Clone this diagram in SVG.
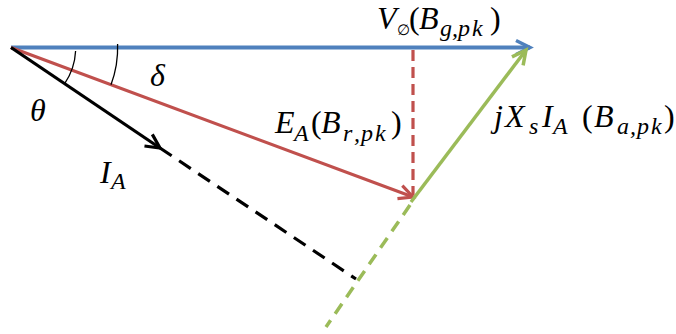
<svg xmlns="http://www.w3.org/2000/svg" width="676" height="334" viewBox="0 0 676 334">
<style>
  .t { font-family: "Liberation Serif", "DejaVu Serif", serif; font-size: 32px; font-style: italic; fill: #000; }
  .s { font-size: 24px; }
  .u { font-style: normal; }
  .e { font-family: "DejaVu Serif", serif; font-size: 15px; font-style: normal; }
  .blue { stroke: #4F81BD; fill: none; stroke-width: 4; }
  .red { stroke: #C0504D; fill: none; stroke-width: 3.2; }
  .grn { stroke: #9BBB59; fill: none; stroke-width: 3.5; }
  .blk { stroke: #000; fill: none; stroke-width: 3.2; }
  .arc { stroke: #000; fill: none; stroke-width: 1.3; }
</style>
<defs>
  <marker id="mBlue" markerUnits="userSpaceOnUse" viewBox="-16 -9 18 18" refX="0" refY="0" markerWidth="18" markerHeight="18" orient="auto" overflow="visible">
    <path d="M-14,-7 L0,0 L-14,7" fill="none" stroke="#4F81BD" stroke-width="3.5"/>
  </marker>
  <marker id="mRed" markerUnits="userSpaceOnUse" viewBox="-16 -9 18 18" refX="0" refY="0" markerWidth="18" markerHeight="18" orient="auto" overflow="visible">
    <path d="M-14,-7 L0,0 L-14,7" fill="none" stroke="#C0504D" stroke-width="3.2"/>
  </marker>
  <marker id="mGrn" markerUnits="userSpaceOnUse" viewBox="-16 -9 18 18" refX="0" refY="0" markerWidth="18" markerHeight="18" orient="auto" overflow="visible">
    <path d="M-14,-7 L0,0 L-14,7" fill="none" stroke="#9BBB59" stroke-width="3.5"/>
  </marker>
  <marker id="mBlk" markerUnits="userSpaceOnUse" viewBox="-16 -9 18 18" refX="0" refY="0" markerWidth="18" markerHeight="18" orient="auto" overflow="visible">
    <path d="M-14,-7 L0,0 L-14,7" fill="none" stroke="#000" stroke-width="3.2"/>
  </marker>
</defs>
<g id="connectors">
  <path class="red" d="M413,50 L413,195" stroke-dasharray="11 6"/>
  <path class="blk" d="M160,148 L356,279" stroke-dasharray="14 9"/>
  <path class="grn" d="M410,205 L326,327" stroke-dasharray="12 8"/>
  <path class="blue" d="M11,47.5 L530,47.5" marker-end="url(#mBlue)"/>
  <path class="red" d="M11,47.5 L413,197" marker-end="url(#mRed)"/>
  <path class="blk" d="M11,47.5 L160,148" marker-end="url(#mBlk)"/>
  <path class="grn" d="M411,202 L526,50" marker-end="url(#mGrn)"/>
  <path class="arc" d="M75.6,51 A64,64 0 0 1 64.8,83.4"/>
  <path class="arc" d="M117.6,44 A106,106 0 0 1 111,84.7"/>
</g>
<g id="label-V">
  <text class="t"><tspan x="377" y="29">V</tspan><tspan class="e" x="397" y="35">∅</tspan><tspan class="u" x="409" y="29">(</tspan><tspan x="419" y="29">B</tspan><tspan class="s" x="440" y="36">g</tspan><tspan class="s" x="452" y="36">,</tspan><tspan class="s" x="458" y="36">p</tspan><tspan class="s" x="472" y="36">k</tspan><tspan class="u" x="490" y="29">)</tspan></text>
</g>
<g id="label-E">
  <text class="t"><tspan x="275" y="133">E</tspan><tspan class="s" x="294" y="141">A</tspan><tspan class="u" x="311" y="133">(</tspan><tspan x="321" y="133">B</tspan><tspan class="s" x="343" y="141">r</tspan><tspan class="s" x="354" y="141">,</tspan><tspan class="s" x="361" y="141">p</tspan><tspan class="s" x="375" y="141">k</tspan><tspan class="u" x="391" y="133">)</tspan></text>
</g>
<g id="label-jX">
  <text class="t"><tspan x="494" y="127">j</tspan><tspan x="505" y="127">X</tspan><tspan class="s" x="529" y="134">s</tspan><tspan x="542" y="127">I</tspan><tspan class="s" x="553" y="134">A</tspan><tspan class="u" x="582" y="127">(</tspan><tspan x="594" y="127">B</tspan><tspan class="s" x="617" y="134">a</tspan><tspan class="s" x="630" y="134">,</tspan><tspan class="s" x="637" y="134">p</tspan><tspan class="s" x="651" y="134">k</tspan><tspan class="u" x="664" y="127">)</tspan></text>
</g>
<g id="label-delta">
  <text class="t" x="150" y="86">δ</text>
</g>
<g id="label-theta">
  <text class="t" x="30" y="121">θ</text>
</g>
<g id="label-IA">
  <text class="t"><tspan x="100" y="183">I</tspan><tspan class="s" x="111" y="189">A</tspan></text>
</g>
</svg>
